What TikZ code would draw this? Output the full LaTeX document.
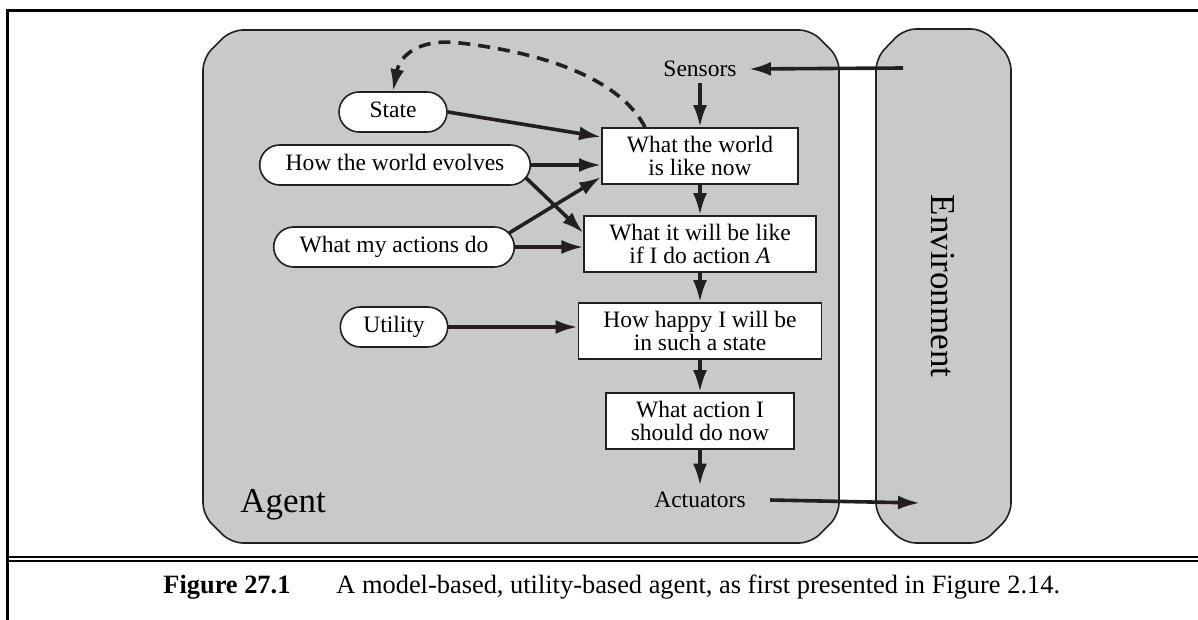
\documentclass[tikz,border=0pt]{standalone}
\usepackage{fontspec}
\setmainfont{Liberation Serif}
\usepackage{xcolor}
\usepackage{tikz}
\usetikzlibrary{arrows.meta,positioning}
\definecolor{agentGray}{HTML}{C8C9CB}
\definecolor{agentInk}{HTML}{231F20}
\newcommand{\diagfont}{\fontsize{11.75pt}{11.5pt}\selectfont}
\newcommand{\bigfont}{\fontsize{17.5pt}{20pt}\selectfont}
\newcommand{\capfont}{\fontsize{13.2pt}{15pt}\selectfont}

\begin{document}
\begin{tikzpicture}[
  x=0.5pt,y=-0.5pt,
  shell/.style={draw=agentInk,fill=agentGray,line width=0.8pt,rounded corners=6pt},
  pill/.style={rectangle,rounded corners=10pt,draw=agentInk,fill=white,line width=0.8pt,text height=8pt,text depth=2.2pt,inner ysep=4.9pt,inner xsep=13pt,font=\diagfont},
  box/.style={rectangle,draw=agentInk,fill=white,line width=0.8pt,align=center,inner xsep=12.5pt,minimum height=28pt,font=\diagfont},
  port/.style={inner xsep=6pt,inner ysep=3pt,font=\diagfont},
  arrow/.style={-{Latex[length=11pt,width=7pt]},line width=1.8pt,color=agentInk},
  rule/.style={line width=1.25pt}
]
\useasboundingbox (0,0) rectangle (1198,620);
% page frame
\draw[rule] (1198,10.5) -- (7.5,10.5) -- (7.5,620);
\draw[line width=1pt] (7.5,557) -- (1198,557);
\draw[line width=1pt] (7.5,561) -- (1198,561);
% agent and environment
\draw[shell] (203,300) -- (203,58) -- (231,30) -- (811,30) -- (839,58) -- (839,515) -- (811,543) -- (231,543) -- (203,515) -- cycle;
\draw[shell] (876,300) -- (876,58) -- (904,29) -- (983,29) -- (1011,58) -- (1011,515) -- (983,543) -- (904,543) -- (876,515) -- cycle;
\node[anchor=base west,inner sep=0pt,font=\bigfont] (agentlabel) at (240,512) {Agent};
\node[rotate=-90,inner sep=0pt,font=\bigfont] (envlabel) at (943,286) {Environment};
\coordinate (envin) at (903,68);
\coordinate (envout) at (920,503);
% model side
\node[pill,minimum width=54pt] (state) at (393,112) {State};
\node[pill] (world) at (395,165) {How the world evolves};
\node[pill] (actions) at (394,247) {What my actions do};
\node[pill,inner xsep=11.5pt] (utility) at (394,327) {Utility};
% decision column
\node[port] (sensors) at (700,69) {Sensors};
\node[box] (now) at (700,156) {What the world\\is like now};
\node[box] (will) at (700,244) {What it will be like\\if I do action \textit{A}};
\node[box] (happy) at (700,331) {How happy I will be\\in such a state};
\node[box] (act) at (700,421) {What action I\\should do now};
\node[port] (actuators) at (700,500) {Actuators};
% connectors
\draw[arrow] (envin) -- (sensors.east);
\draw[arrow] (sensors) -- (now);
\draw[arrow] (now) -- (will);
\draw[arrow] (will) -- (happy);
\draw[arrow] (happy) -- (act);
\draw[arrow] (act) -- (actuators);
\draw[arrow] ([xshift=6pt]actuators.east) -- (envout);
\draw[arrow] (state.east) -- ([yshift=9.5pt]now.west);
\draw[arrow] (world.east) -- (world.east -| now.west);
\draw[arrow] ([shift={(-2.5pt,-6.5pt)}]world.east) -- ([yshift=5.5pt]will.west);
\draw[arrow] ([shift={(-3pt,7pt)}]actions.east) -- ([yshift=-10.5pt]now.west);
\draw[arrow] (actions.east) -- (actions.east -| will.west);
\draw[arrow] (utility.east) -- (utility.east -| happy.west);
\draw[arrow,dash pattern=on 6pt off 4pt] ([xshift=-27.5pt]now.north) .. controls (615,70) and (520,50) .. (460,43) .. controls (420,38) and (400,55) .. (state.north);
% caption
\node[anchor=base west,inner sep=0pt,font=\capfont\bfseries] (fignum) at (163,593) {Figure 27.1};
\node[anchor=base west,inner sep=0pt,font=\capfont] (figtext) at (336,593) {A model-based, utility-based agent, as first presented in Figure 2.14.};
\end{tikzpicture}
\end{document}
